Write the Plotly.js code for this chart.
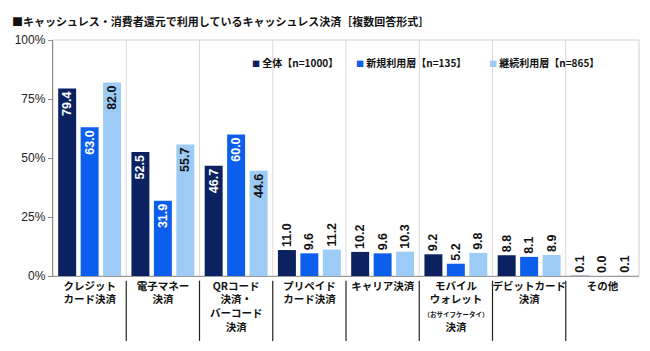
<!DOCTYPE html>
<html>
<head>
<meta charset="utf-8">
<script src="https://cdn.plot.ly/plotly-3.0.1.min.js"></script>
<style>html,body{margin:0;padding:0;background:#fff;}#chart{width:650px;height:351px;}</style>
</head>
<body>
<div id="chart"></div>
<script>
const categories = [
  "クレジット<br>カード決済",
  "電子マネー<br>決済",
  "QRコード<br>決済・<br>バーコード<br>決済",
  "プリペイド<br>カード決済",
  "キャリア決済",
  "モバイル<br>ウォレット<br><span style='font-size:6.5px'>（おサイフケータイ）</span><br>決済",
  "デビットカード<br>決済",
  "その他"
];
const seriesNames = ["全体【n=1000】", "新規利用層【n=135】", "継続利用層【n=865】"];
const totalAll = [79.4, 52.5, 46.7, 11.0, 10.2, 9.2, 8.8, 0.1];
const newUsers = [63.0, 31.9, 60.0, 9.6, 9.6, 5.2, 8.1, 0.0];
const continuing = [82.0, 55.7, 44.6, 11.2, 10.3, 9.8, 8.9, 0.1];
const yTickVals = [0, 25, 50, 75, 100];
const yTickText = ["0%", "25%", "50%", "75%", "100%"];

const colors = ["#0c2160", "#0c5fec", "#9ccbf6"];
const insideColors = ["#ffffff", "#ffffff", "#111111"];
const FONT = "Liberation Sans, Arial, 'Noto Sans CJK JP', sans-serif";
const JFONT = "'Noto Sans CJK JP', 'Liberation Sans', sans-serif";

const seriesData = [totalAll, newUsers, continuing];
const traces = seriesData.map((vals, i) => ({
  type: "bar",
  name: seriesNames[i],
  x: categories,
  y: vals,
  marker: {color: colors[i]},
  text: vals.map(v => v.toFixed(1)),
  textposition: vals.map(v => v >= 20 ? "inside" : "outside"),
  insidetextanchor: "end",
  textangle: -90,
  constraintext: "none",
  insidetextfont: {family: FONT, size: 12.5, color: insideColors[i], weight: "bold"},
  outsidetextfont: {family: FONT, size: 12.5, color: "#111111", weight: "bold"},
  cliponaxis: false,
  hoverinfo: "skip",
  showlegend: false
}));

const shapes = [];
shapes.push({type: "rect", xref: "paper", yref: "paper", x0: 0, x1: 1, y0: 0, y1: 1,
  line: {color: "#cfcfcf", width: 1}, layer: "below"});
for (let k = 0; k < categories.length - 1; k++) {
  shapes.push({type: "line", xref: "x", yref: "paper", x0: k + 0.5, x1: k + 0.5, y0: 0, y1: 1,
    line: {color: "#d9d9d9", width: 1}, layer: "below"});
  shapes.push({type: "line", xref: "x", yref: "paper", x0: k + 0.5, x1: k + 0.5, y0: -0.02, y1: -0.275,
    line: {color: "#222222", width: 1.2}});
}

const legendX = [250, 354, 487];
const annotations = seriesNames.map((n, i) => ({
  xref: "paper", yref: "paper",
  x: (legendX[i] - 53) / 586, y: (276 - 63) / 236,
  xanchor: "left", yanchor: "middle", showarrow: false,
  text: "<span style='color:" + colors[i] + ";font-size:8px'>■</span> " + n,
  font: {family: JFONT, size: 10, color: "#111111", weight: "bold"}
}));

const layout = {
  width: 650, height: 351,
  margin: {l: 53, r: 11, t: 40, b: 75},
  paper_bgcolor: "#ffffff", plot_bgcolor: "#ffffff",
  title: {
    text: "■キャッシュレス・消費者還元で利用しているキャッシュレス決済［複数回答形式］",
    font: {family: JFONT, size: 11, color: "#111111", weight: "bold"},
    x: 12 / 650, xanchor: "left", xref: "container",
    y: 1 - 22 / 351, yanchor: "middle", yref: "container"
  },
  barmode: "group",
  bargap: 0.08,
  bargroupgap: 0.2,
  xaxis: {
    type: "category",
    showgrid: false,
    showline: true, linecolor: "#9a9a9a", linewidth: 1,
    ticks: "",
    tickfont: {family: JFONT, size: 10.5, color: "#111111", weight: "bold"},
    tickangle: 0,
    automargin: false
  },
  yaxis: {
    range: [0, 100],
    tickvals: yTickVals, ticktext: yTickText,
    showgrid: false, zeroline: false,
    showline: true, linecolor: "#8a8a8a", linewidth: 1.2,
    ticks: "outside", ticklen: 4, tickcolor: "#8a8a8a",
    tickfont: {family: FONT, size: 12, color: "#222222"},
    automargin: false
  },
  shapes: shapes,
  annotations: annotations,
  showlegend: false
};

Plotly.newPlot("chart", traces, layout, {displayModeBar: false, staticPlot: true});
</script>
</body>
</html>
